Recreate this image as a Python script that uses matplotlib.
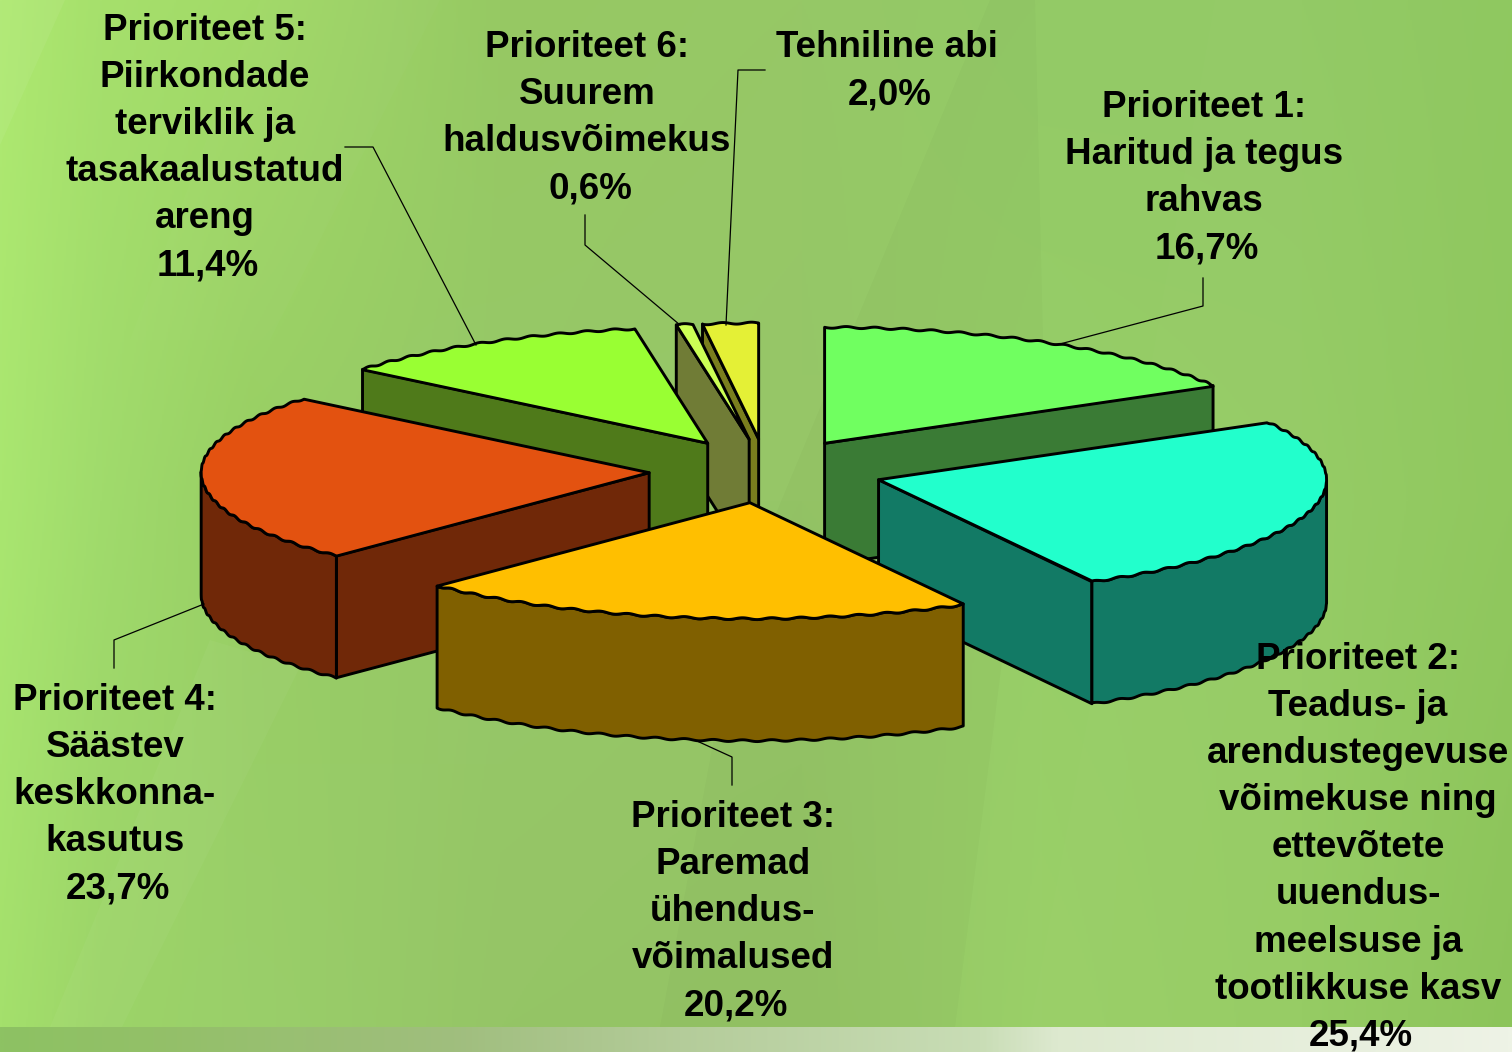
import numpy as np
import matplotlib
matplotlib.use('Agg')
import matplotlib.pyplot as plt
from matplotlib.colors import LinearSegmentedColormap, to_rgb
from matplotlib.patches import Polygon

plt.rcParams['font.family'] = ['Liberation Sans', 'DejaVu Sans']

# andmed
names = [
    ['Prioriteet 1:', 'Haritud ja tegus', 'rahvas'],
    ['Prioriteet 2:', 'Teadus- ja', 'arendustegevuse', 'võimekuse ning', 'ettevõtete',
     'uuendus-', 'meelsuse ja', 'tootlikkuse kasv'],
    ['Prioriteet 3:', 'Paremad', 'ühendus-', 'võimalused'],
    ['Prioriteet 4:', 'Säästev', 'keskkonna-', 'kasutus'],
    ['Prioriteet 5:', 'Piirkondade', 'terviklik ja', 'tasakaalustatud', 'areng'],
    ['Prioriteet 6:', 'Suurem', 'haldusvõimekus'],
    ['Tehniline abi'],
]
values = [16.7, 25.4, 20.2, 23.7, 11.4, 0.6, 2.0]
pct_labels = ['16,7%', '25,4%', '20,2%', '23,7%', '11,4%', '0,6%', '2,0%']

top_colors = ['#70FF60', '#22FFCC', '#FFBF00', '#E35210', '#99FF33', '#CCFF55', '#E4F036']
side_colors = ['#3A7B35', '#127A65', '#806000', '#702808', '#4F7A1A', '#707C36', '#7A7E1E']

# label centre x, first line centre y
label_x = [1204, 1358, 733, 115, 205, 587, 887]
label_y = [105, 657, 815, 698, 28, 45, 45]

leaders = [
    [(1203, 278), (1203, 306), (1060, 344)],
    [(732, 785), (732, 757), (697, 741)],
    [(114, 668), (114, 640), (204, 604)],
    [(345, 147), (373, 147), (476, 345)],
    [(585, 215), (585, 245), (680, 325)],
    [(765, 70), (738, 70), (726, 325)],
]

# pie geometry in pixels
cx, cy = 766, 471
rx, ry = 448, 116
depth = 122
explode_x, explode_y = 117, 32
draw_order = [0, 6, 5, 4, 3, 1, 2]

fig = plt.figure(figsize=(15.12, 10.52), dpi=100)
ax = fig.add_axes([0, 0, 1, 1])
ax.set_xlim(0, 1512)
ax.set_ylim(1052, 0)
ax.axis('off')

# taust
knot_x = [0, 100, 250, 500, 800, 1040, 1300, 1512]
knot_y = [0, 500, 1027]
knot_c = [
    ['#AEE970', '#A6E06C', '#A2DA68', '#96C963', '#96C866', '#93CA66', '#93CA66', '#8FC860'],
    ['#A9E670', '#A0DB6C', '#98CE64', '#96C868', '#96C668', '#97CE68', '#96CC66', '#90C85E'],
    ['#A4E06C', '#9CD468', '#9ACF6A', '#95C566', '#94C464', '#9AD068', '#96CC64', '#8CC45A'],
]
gx = np.arange(1512)
gy = np.arange(1052)
rows = np.array([[np.interp(gx, knot_x, [to_rgb(c)[b] for c in row]) for b in range(3)] for row in knot_c])
bg = np.array([[np.interp(gy, knot_y, rows[:, b, j]) for j in range(0, 1512, 2)] for b in range(3)])
ax.imshow(np.moveaxis(bg, 0, -1).transpose(1, 0, 2), extent=(0, 1512, 1052, 0), aspect='auto', zorder=0)

swooshes = [
    ([(0, 0), (65, 0), (0, 145)], 'white', 0.06),
    ([(50, 1027), (122, 1027), (300, 667), (210, 640)], 'white', 0.035),
    ([(260, 0), (440, 0), (270, 340), (130, 340)], 'white', 0.02),
    ([(990, 0), (1035, 0), (1043, 340), (1010, 600), (955, 1027), (660, 1027), (740, 600)], 'black', 0.02),
    ([(1215, 0), (1300, 0), (1300, 1027), (1030, 1027), (1110, 600)], 'white', 0.01),
]
for pts, col, alpha in swooshes:
    ax.add_patch(Polygon(pts, closed=True, fc=col, ec='none', alpha=alpha, zorder=1))

strip = np.linspace(0, 1, 512)[None, :]
strip_stops = [(0, '#8DC263'), (0.1, '#93C068'), (0.3, '#A0BE7E'), (0.45, '#B4CC9A'),
               (0.65, '#C9DDB6'), (0.7, '#DDE9CF'), (1, '#EEF3E6')]
strip_cmap = LinearSegmentedColormap.from_list('strip', strip_stops)
ax.imshow(strip, cmap=strip_cmap, extent=(0, 1512, 1052, 1027), aspect='auto', zorder=2)
ax.set_xlim(0, 1512)
ax.set_ylim(1052, 0)


def rim(ox, oy, angles):
    t = np.radians(angles)
    # the source picture has a slightly wavy outline
    wave = 0.9 * np.sin(t * 97) * (np.size(angles) > 1)
    return np.column_stack([ox + rx * np.sin(t), oy - ry * np.cos(t) + wave])


def draw_face(pts, color, z):
    ax.add_patch(Polygon(pts, closed=True, fc=color, ec='black', lw=2.1, joinstyle='round', zorder=z))


edges = np.concatenate([[0], np.cumsum(values)]) / sum(values) * 360
for n, i in enumerate(draw_order):
    a0, a1 = edges[i], edges[i + 1]
    mid = np.radians((a0 + a1) / 2)
    ox = cx + explode_x * np.sin(mid)
    oy = cy - explode_y * np.cos(mid)
    z = 3 + n
    apex = np.array([[ox, oy]])
    down = np.array([0, depth])

    # radial faces, only those turned towards the viewer
    for ang, show in [(a0, np.sin(np.radians(a0)) < -1e-6), (a1, np.sin(np.radians(a1)) > 1e-6)]:
        if show:
            p = rim(ox, oy, [ang])
            draw_face(np.vstack([apex, p, p + down, apex + down]), side_colors[i], z)

    # outer wall
    w0, w1 = max(a0, 90), min(a1, 270)
    if w1 > w0:
        arc = rim(ox, oy, np.linspace(w0, w1, 300))
        draw_face(np.vstack([arc, (arc + down)[::-1]]), side_colors[i], z)

    # top
    arc = rim(ox, oy, np.linspace(a0, a1, 400))
    draw_face(np.vstack([apex, arc]), top_colors[i], z)

for pts in leaders:
    xs, ys = zip(*pts)
    ax.plot(xs, ys, color='black', lw=0.9, zorder=20)

for i in range(len(values)):
    lines = names[i] + [pct_labels[i]]
    for k, line in enumerate(lines):
        dx = 3 if line == pct_labels[i] else 0
        ax.text(label_x[i] + dx, label_y[i] + k * 47.1 + 12, line, ha='center', va='baseline',
                fontsize=26.5, fontweight='bold', color='black', zorder=30)

fig.savefig('out.png', dpi=100)
